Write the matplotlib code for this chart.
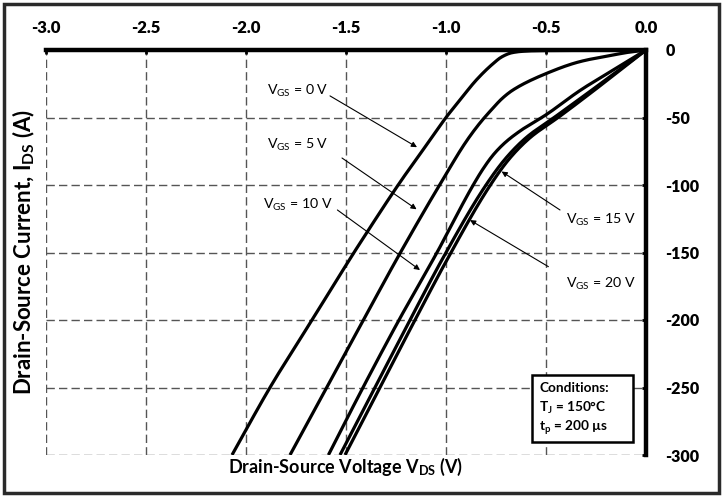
import matplotlib
matplotlib.use("Agg")
import matplotlib.pyplot as plt
from matplotlib.patches import Rectangle
import numpy as np

plt.rcParams["font.family"] = ["Lato", "DejaVu Sans"]
plt.rcParams["mathtext.fontset"] = "custom"
plt.rcParams["mathtext.rm"] = "Lato"
plt.rcParams["mathtext.it"] = "Lato:italic"
plt.rcParams["mathtext.bf"] = "Lato:bold"

# Third-quadrant output characteristics, Tj = 150 C
v_gs0 = [0, -0.30, -0.55, -0.62, -0.67, -0.72, -0.763, -0.847, -0.93, -0.997, -1.08, -1.23, -1.395, -1.46, -1.67, -1.88, -2.07]
i_gs0 = [0, -0.2, -0.5, -1, -2, -5, -9.9, -22, -37, -49.4, -66.7, -98, -135, -150, -200, -250, -300]

v_gs5 = [0, -0.08, -0.165, -0.33, -0.497, -0.665, -0.72, -0.765, -0.83, -0.90, -1.0, -1.23, -1.413, -1.597, -1.78]
i_gs5 = [0, -1.5, -3.7, -8.6, -17.3, -29.6, -36, -43, -54, -68, -92, -150.6, -200, -250, -300]

v_gs10 = [0, -0.15, -0.33, -0.50, -0.62, -0.70, -0.76, -0.81, -0.86, -1.045, -1.235, -1.415, -1.588]
i_gs10 = [0, -13.5, -30, -48, -59, -68, -77, -87, -99, -150, -200, -250, -300]

v_gs15 = [0, -0.20, -0.45, -0.60, -0.70, -0.80, -1.0, -1.18, -1.355, -1.53]
i_gs15 = [0, -22, -49, -65, -80, -100, -150, -200, -250, -300]

v_gs20 = [0, -0.19, -0.43, -0.58, -0.68, -0.778, -0.975, -1.155, -1.33, -1.505]
i_gs20 = [0, -22, -49, -65, -80, -100, -150, -200, -250, -300]

x_ticks = [-3.0, -2.5, -2.0, -1.5, -1.0, -0.5, 0.0]
y_ticks = [0, -50, -100, -150, -200, -250, -300]


def _pchip(t, y, tn):
    t = np.asarray(t, float)
    y = np.asarray(y, float)
    h = np.diff(t)
    d = np.diff(y) / h
    m = np.zeros_like(y)
    m[0], m[-1] = d[0], d[-1]
    for k in range(1, len(y) - 1):
        if d[k - 1] * d[k] > 0:
            w1 = 2 * h[k] + h[k - 1]
            w2 = h[k] + 2 * h[k - 1]
            m[k] = (w1 + w2) / (w1 / d[k - 1] + w2 / d[k])
    idx = np.clip(np.searchsorted(t, tn) - 1, 0, len(t) - 2)
    hk = h[idx]
    s = (tn - t[idx]) / hk
    h00 = 2 * s**3 - 3 * s**2 + 1
    h10 = s**3 - 2 * s**2 + s
    h01 = -2 * s**3 + 3 * s**2
    h11 = s**3 - s**2
    return h00 * y[idx] + h10 * hk * m[idx] + h01 * y[idx + 1] + h11 * hk * m[idx + 1]


def smooth(v, i, n=400):
    # parameterise by chord length in display-like units, then interpolate each coordinate
    v = np.asarray(v, float)
    i = np.asarray(i, float)
    seg = np.hypot(np.diff(v) * 200, np.diff(i) * 1.35)
    t = np.concatenate([[0], np.cumsum(seg)])
    tn = np.linspace(0, t[-1], n)
    return _pchip(t, v, tn), _pchip(t, i, tn)


fig = plt.figure(figsize=(7.23, 4.97), dpi=100)
ax = fig.add_axes([46 / 723, 1 - 455 / 497, 600 / 723, 405 / 497])

for v, i in [(v_gs0, i_gs0), (v_gs5, i_gs5), (v_gs10, i_gs10), (v_gs15, i_gs15), (v_gs20, i_gs20)]:
    sv, si = smooth(v, i)
    ax.plot(sv, si, color="black", lw=2.3, solid_capstyle="butt", solid_joinstyle="round", zorder=3)

ax.set_xlim(-3.0, 0.0)
ax.set_ylim(-300, 0)
ax.set_xticks(x_ticks)
ax.set_yticks(y_ticks)
ax.set_xticklabels([f"{t:.1f}" for t in x_ticks], fontsize=12, fontweight="heavy")
ax.set_yticklabels([f"{t:d}" for t in y_ticks], fontsize=11.5, fontweight="heavy")
ax.xaxis.tick_top()
ax.yaxis.tick_right()
ax.tick_params(axis="x", direction="in", length=3, width=2, pad=10)
ax.tick_params(axis="y", direction="in", length=3, width=2, pad=14)

ax.grid(True, color="#555555", lw=1.0, ls=(0, (6, 3)))
ax.set_axisbelow(True)

for side in ["left", "bottom"]:
    ax.spines[side].set_visible(False)
for side in ["top", "right"]:
    ax.spines[side].set_linewidth(3.2)
    ax.spines[side].set_color("black")
    ax.spines[side].set_zorder(5)

fig.text(346 / 723, 1 - 467 / 497, r"Drain-Source Voltage V$_{\mathbf{DS}}$ (V)",
         ha="center", va="center", fontsize=13, fontweight="bold")
fig.text(24 / 723, 1 - 252 / 497, r"Drain-Source Current, I$_{\mathbf{DS}}$ (A)",
         ha="center", va="center", rotation=90, fontsize=16, fontweight="bold")

# Curve labels with leader arrows
labels = [
    (r"V$_{\mathrm{GS}}$ = 0 V", (-1.74, -30.5), (-1.58, -34), (-1.145, -72)),
    (r"V$_{\mathrm{GS}}$ = 5 V", (-1.74, -70.5), (-1.52, -80), (-1.147, -118)),
    (r"V$_{\mathrm{GS}}$ = 10 V", (-1.74, -115), (-1.543, -118.5), (-1.13, -163)),
    (r"V$_{\mathrm{GS}}$ = 15 V", (-0.225, -126), (-0.43, -118.5), (-0.722, -90)),
    (r"V$_{\mathrm{GS}}$ = 20 V", (-0.225, -173), (-0.488, -160.5), (-0.88, -126)),
]
for text, tpos, start, tip in labels:
    ax.text(tpos[0], tpos[1], text, ha="center", va="center", fontsize=10.2, zorder=6)
    ax.annotate("", xy=tip, xytext=start,
                arrowprops=dict(arrowstyle="-|>", color="black", lw=0.8,
                                mutation_scale=8, shrinkA=0, shrinkB=0), zorder=6)

# Conditions box
ax.add_patch(Rectangle((-0.57, -290.5), 0.505, 49.5, facecolor="white", edgecolor="black",
                       lw=1.8, zorder=7))
cond_lines = ["Conditions:", r"T$_{\mathbf{J}}$ = 150°C", r"t$_{\mathbf{p}}$ = 200 µs"]
for k, line in enumerate(cond_lines):
    ax.text(-0.535, -250.4 - 14.6 * k, line, ha="left", va="center", fontsize=9.8,
            fontweight="bold", zorder=8)

# Figure frame
fig.patches.append(Rectangle((4 / 723, 4 / 497), 715 / 723, 489 / 497, transform=fig.transFigure,
                             fill=False, edgecolor="#2a2a2a", lw=2.5))

fig.savefig("out.png", dpi=100)
